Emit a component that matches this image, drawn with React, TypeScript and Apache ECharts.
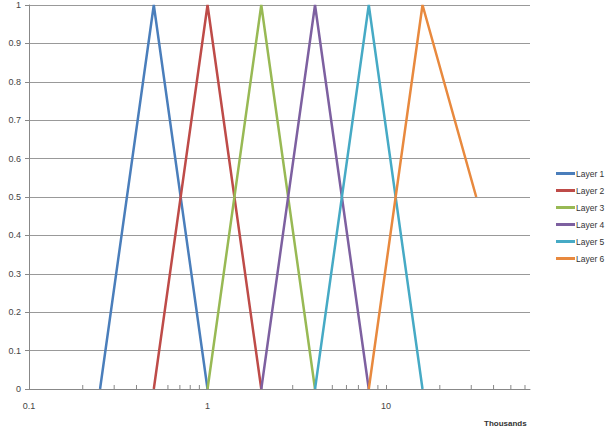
import React, { useEffect, useRef } from "react";
import * as echarts from "echarts";

const layerNames = ["Layer 1", "Layer 2", "Layer 3", "Layer 4", "Layer 5", "Layer 6"];
const layer1 = [[0.25, 0], [0.5, 1], [1, 0]];
const layer2 = [[0.5, 0], [1, 1], [2, 0]];
const layer3 = [[1, 0], [2, 1], [4, 0]];
const layer4 = [[2, 0], [4, 1], [8, 0]];
const layer5 = [[4, 0], [8, 1], [16, 0]];
const layer6 = [[8, 0], [16, 1], [32, 0.5]];
const layerData = [layer1, layer2, layer3, layer4, layer5, layer6];
const colors = ["#4A7EBB", "#BE4B48", "#98B954", "#7D60A0", "#46AAC5", "#E8893E"];
const minorTickValues = [0.2, 0.3, 0.4, 0.5, 0.6, 0.7, 0.8, 0.9, 2, 3, 4, 5, 6, 7, 8, 9, 20, 30, 40, 50, 60];
const xMin = 0.1;
const xMax = 64;

export default function App() {
  const ref = useRef<HTMLDivElement>(null);
  useEffect(() => {
    const chart = echarts.init(ref.current!, undefined, { renderer: "svg" });
    const font = "Liberation Sans";
    const series: any[] = layerData.map((d, i) => ({
      name: layerNames[i],
      type: "line",
      data: d,
      showSymbol: false,
      symbol: "none",
      lineStyle: { width: 2.5, color: colors[i] },
      itemStyle: { color: colors[i] },
      z: 3,
    }));
    series.push({
      name: "minorTicks",
      type: "custom",
      silent: true,
      data: minorTickValues.map((v) => [v, 0]),
      renderItem: (params: any, api: any) => {
        const p = api.coord([api.value(0), 0]);
        return {
          type: "line",
          shape: { x1: p[0], y1: p[1], x2: p[0], y2: p[1] - 4 },
          style: { stroke: "#888", lineWidth: 1 },
        };
      },
      z: 2,
    });
    chart.setOption({
      animation: false,
      backgroundColor: "#fff",
      textStyle: { fontFamily: font },
      grid: { left: 29, right: 76, top: 5, bottom: 44 },
      legend: {
        data: layerNames,
        orient: "vertical",
        left: 556,
        top: 169,
        padding: 0,
        icon: "rect",
        itemWidth: 19,
        itemHeight: 3,
        itemGap: 8,
        textStyle: {
          fontSize: 8.5,
          color: "#333",
          fontFamily: font,
          padding: [0, 0, 0, -4],
          width: 40,
          overflow: "none",
        },
      },
      xAxis: {
        type: "log",
        logBase: 10,
        min: xMin,
        max: xMax,
        axisLine: { show: true, lineStyle: { color: "#888" } },
        axisTick: { show: true, inside: true, length: 4, lineStyle: { color: "#888" } },
        splitLine: { show: false },
        minorTick: { show: false },
        axisLabel: {
          fontSize: 9,
          color: "#444",
          margin: 12,
          showMaxLabel: false,
          formatter: (v: number) => String(Number(v.toPrecision(6))),
        },
      },
      yAxis: {
        type: "value",
        min: 0,
        max: 1,
        interval: 0.1,
        axisLine: { show: true, lineStyle: { color: "#888" } },
        axisTick: { show: true, length: 4, lineStyle: { color: "#888" } },
        splitLine: { show: true, lineStyle: { color: "#999", width: 1 } },
        axisLabel: {
          fontSize: 9,
          color: "#444",
          margin: 8,
          formatter: (v: number) => String(Number(v.toFixed(1))),
        },
      },
      graphic: [
        {
          type: "text",
          left: 484,
          top: 419,
          style: { text: "Thousands", font: `bold 8px ${font}`, fill: "#333" },
        },
      ],
      series,
    });
    return () => chart.dispose();
  }, []);
  return (
    <div
      ref={ref}
      style={{ position: "absolute", left: 0, top: 0, width: 606, height: 433 }}
    />
  );
}
